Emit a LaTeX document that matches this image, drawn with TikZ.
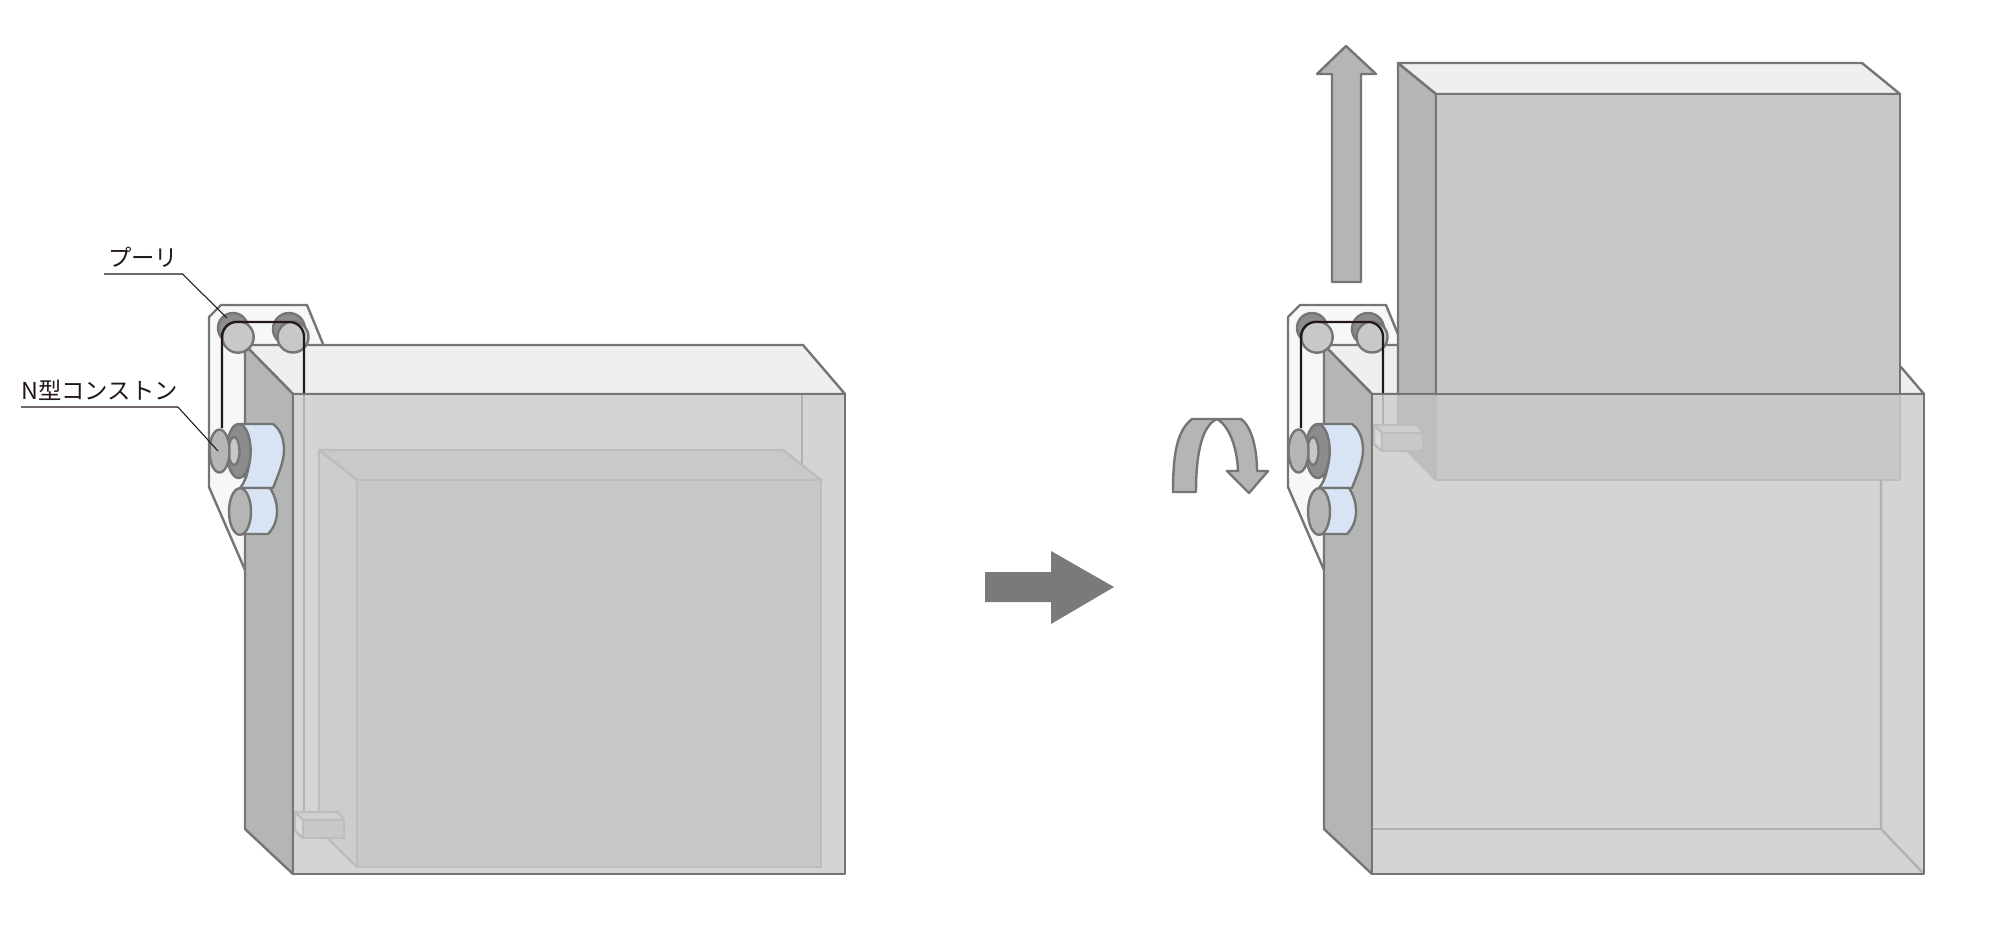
\documentclass[tikz,border=0pt]{standalone}
\usepackage{fontspec}
\usepackage{xcolor}
\usepackage{tikz}
\newfontfamily\jpfont{Noto Sans CJK JP}
\definecolor{edgegray}{HTML}{757575}
\definecolor{arrowgray}{HTML}{7A7A7A}
\definecolor{innergray}{HTML}{BCBEBD}
\definecolor{tracegray}{HTML}{B2B2B2}
\definecolor{panelgray}{HTML}{D4D4D4}
\definecolor{boxgray}{HTML}{C8C8C8}
\definecolor{sidegray}{HTML}{B4B6B5}
\definecolor{topgray}{HTML}{EEF0EF}
\definecolor{plategray}{HTML}{F6F8F8}
\definecolor{drumblue}{HTML}{D8E4F4}
\definecolor{darkgray}{HTML}{8C8C8C}
\definecolor{wireblack}{HTML}{231815}
\tikzset{
  outline/.style={draw=edgegray,line width=1.8pt,line join=round},
  faint/.style={draw=innergray,line width=1.8pt,line join=round},
  trace/.style={draw=tracegray,line width=1.8pt},
  belt/.style={draw=wireblack,line width=1.7pt,rounded corners=11},
  leader/.style={draw=wireblack,line width=0.8pt},
  callout/.style={font=\jpfont\fontsize{17.5}{20}\selectfont,inner sep=0pt,anchor=south west,text=wireblack,minimum height=24pt}
}
% plate, top and side of the case, with the pulleys and the spring
\newcommand{\caseback}{
  \draw[outline,fill=plategray] (209,317) -- (221,305) -- (307,305) -- (323,344) -- (300,570) -- (245,570) -- (209,487) -- cycle;
  \draw[outline,fill=topgray] (245,345) -- (803,345) -- (845,394) -- (293,394) -- cycle;
  \draw[outline,fill=sidegray] (245,345) -- (293,394) -- (293,874) -- (245,829) -- cycle;
  \draw[outline,fill=darkgray] (233,328) circle (15);
  \draw[outline,fill=darkgray] (289,329) circle (16);
  \draw[outline,fill=boxgray] (238,337) circle (15.7);
  \draw[outline,fill=boxgray] (293,337) circle (15.5);
  \draw[belt] (222,428) -- (222,322) -- (304,322) -- (304,394);
  \draw[outline,fill=drumblue] (239,424) -- (273,424) .. controls (280,429) and (284,438) .. (284,450) .. controls (284,462) and (278,475) .. (273,488) -- (240,488) .. controls (247,480) and (250,465) .. (250,450) .. controls (250,437) and (246,429) .. (239,424) -- cycle;
  \draw[outline,fill=darkgray] (238.7,451) circle [x radius=12,y radius=27];
  \draw[outline,fill=boxgray] (234,451) circle [x radius=5.5,y radius=14];
  \draw[outline,fill=sidegray] (219.5,451) circle [x radius=10,y radius=21.5];
  \draw[outline,fill=drumblue] (240,488) -- (270,488) .. controls (274,494) and (277,502) .. (277,511) .. controls (277,520) and (274,528) .. (268,534) -- (240,534) -- cycle;
  \draw[outline,fill=sidegray] (240,511.5) circle [x radius=11,y radius=23.3];
}
% little block seen through the panel
\newcommand{\cornerblock}{
  \draw[faint,fill=boxgray!85!white] (295,812) -- (338,812) -- (344,820) -- (303,820) -- cycle;
  \draw[faint,fill=boxgray!70!white] (295,812) -- (303,820) -- (303,838) -- (295,831) -- cycle;
  \draw[faint,fill=boxgray] (303,820) rectangle (344,838);
}
\begin{document}
\begin{tikzpicture}[x=0.75pt,y=0.75pt,yscale=-1,xscale=1]
  \useasboundingbox (0,0) rectangle (2008,933);

  % left case
  \caseback
  \draw[fill=panelgray,draw=none] (293,394) rectangle (845,874);
  \draw[trace] (304,394) -- (304,812);
  \draw[trace] (802,394) -- (802,464);
  \draw[faint,fill=panelgray!95!black] (319,450) -- (783,450) -- (821,480) -- (357,480) -- cycle;
  \draw[faint,fill=boxgray!90!white] (319,450) -- (357,480) -- (357,867) -- (319,830) -- cycle;
  \draw[faint,fill=boxgray] (357,480) rectangle (821,867);
  \cornerblock
  \draw[outline] (293,394) rectangle (845,874);

  % labels
  \node[callout,minimum width=58.5pt] (pulleylabel) at (104,274) {プーリ};
  \coordinate (pulleytip) at (227,318);
  \draw[leader] (pulleylabel.south west) -- (pulleylabel.south east) -- (pulleytip);
  \node[callout,minimum width=114pt] (springlabel) at (21,407) {N型コンストン};
  \coordinate (springtip) at (218,451);
  \draw[leader] (springlabel.south west) -- (springlabel.south east) -- (springtip);

  % middle arrow
  \draw[fill=arrowgray,draw=none] (985,572) -- (1051,572) -- (1051,551) -- (1114,587) -- (1051,624) -- (1051,602) -- (985,602) -- cycle;

  % right case
  \begin{scope}[shift={(1079,0)}]
    \caseback
  \end{scope}
  \draw[outline,fill=sidegray] (1398,63) -- (1436,94) -- (1436,394) -- (1398,394) -- cycle;
  \draw[outline,fill=topgray] (1398,63) -- (1862,63) -- (1900,94) -- (1436,94) -- cycle;
  \draw[outline,fill=boxgray] (1436,94) rectangle (1900,394);
  \draw[fill=panelgray,draw=none] (1372,394) rectangle (1924,874);
  \draw[faint,fill=boxgray!95!black] (1398,394) -- (1436,394) -- (1436,480) -- (1398,442) -- cycle;
  \draw[faint,fill=boxgray] (1436,394) rectangle (1900,480);
  \draw[trace] (1383,394) -- (1383,433);
  \draw[trace] (1881,480) -- (1881,829) -- (1924,874);
  \draw[trace] (1372,829) -- (1881,829);
  \begin{scope}[shift={(1079,-387)}]
    \cornerblock
  \end{scope}
  \draw[outline] (1372,394) rectangle (1924,874);

  % up and turn arrows
  \draw[outline,fill=sidegray] (1346,46) -- (1376,74) -- (1361,74) -- (1361,282) -- (1332,282) -- (1332,74) -- (1317,74) -- cycle;
  \draw[outline,fill=sidegray] (1173,492) .. controls (1173,450) and (1178,430) .. (1192,419) -- (1241,419) .. controls (1250,425) and (1257,445) .. (1257,471) -- (1268,471) -- (1249,493) -- (1227,471) -- (1238,471) .. controls (1237,445) and (1228,425) .. (1217,419) .. controls (1203,425) and (1196,450) .. (1196,492) -- cycle;
\end{tikzpicture}
\end{document}
